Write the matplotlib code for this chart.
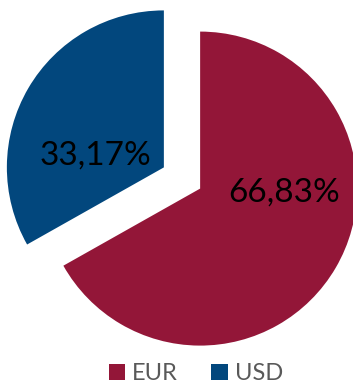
import matplotlib.pyplot as plt

currencies = ['EUR', 'USD']
shares = [66.83, 33.17]
colors = ['#931638', '#02477D']

W, H = 353, 384
fig = plt.figure(figsize=(W / 100, H / 100), dpi=100)
ax = fig.add_axes([0, 0, 1, 1])

# pie drawn in pixel-like data units so radius/explode are easy to tune
radius = 157
wedges, _, pct_texts = ax.pie(
    shares, colors=colors, startangle=90, counterclock=False,
    radius=radius, center=(182, H - 178), explode=[21, 21],
    autopct=lambda p: '{:.2f}%'.format(p).replace('.', ','),
    textprops={'fontsize': 24, 'family': 'Lato', 'color': 'black'},
    wedgeprops={'linewidth': 0},
)
pct_texts[0].set_position((284, H - 193))
pct_texts[1].set_position((95, H - 156))

ax.set_xlim(0, W)
ax.set_ylim(0, H)
ax.set_aspect('equal')
ax.axis('off')

leg = fig.legend(wedges, currencies, loc='lower center', ncol=2, frameon=False,
                 bbox_to_anchor=(0.555, -0.044), handlelength=0.7, handleheight=0.7,
                 handletextpad=0.3, columnspacing=1.4, borderaxespad=0.3,
                 prop={'family': 'Lato', 'size': 17})
for t in leg.get_texts():
    t.set_color('#595959')

fig.savefig('out.png', dpi=100)
